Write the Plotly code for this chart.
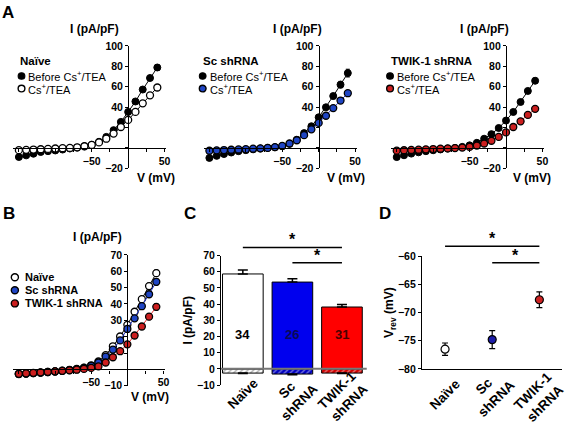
import plotly.graph_objects as go

W, H = 567, 428
FONT = "Liberation Sans, Arial, Helvetica, sans-serif"

# ---------------- data ----------------
V = [-150, -140, -130, -120, -110, -100, -90, -80, -70, -60,
     -50, -40, -30, -20, -10, 0, 10, 20, 30, 40]

naive_before = [-8.9, -7.3, -5.7, -4.0, -3.2, -2.5, -1.6, -0.6, 0.3, 1.6,
                3.0, 6.0, 10.8, 17.4, 25.5, 35.3, 45.5, 57.2, 68.5, 78.8]
naive_before_err = [0.6, 0.5, 0.4, 0.4, 0.3, 0.3, 0.2, 0.2, 0.2, 0.2,
                    0.3, 0.4, 0.6, 0.8, 1.0, 1.3, 1.6, 2.0, 2.4, 2.8]
naive_cs = [-2.2, -1.9, -1.6, -1.3, -1.0, -0.6, -0.3, 0.0, 0.6, 1.6,
            2.9, 5.4, 9.0, 14.0, 20.5, 27.4, 35.3, 43.7, 51.5, 59.2]
naive_cs_err = [0.2, 0.2, 0.2, 0.2, 0.1, 0.1, 0.1, 0.1, 0.1, 0.2,
                0.2, 0.3, 0.5, 0.6, 0.8, 1.0, 1.2, 1.5, 1.8, 2.0]

sc_before = [-9.8, -7.8, -6.0, -4.5, -3.2, -2.2, -1.4, -0.6, 0.0, 0.6,
             1.6, 4.0, 8.0, 14.5, 21.2, 30.0, 39.8, 50.8, 62.0, 73.3]
sc_before_err = [0.7, 0.6, 0.5, 0.4, 0.3, 0.3, 0.2, 0.2, 0.2, 0.2,
                 0.3, 0.4, 0.6, 0.9, 1.2, 1.6, 2.0, 2.6, 3.2, 3.8]
sc_cs = [-2.8, -2.4, -2.1, -1.8, -1.5, -1.2, -0.8, -0.4, 0.0, 0.8,
         2.0, 4.3, 7.5, 12.5, 18.2, 24.5, 31.5, 39.0, 46.4, 53.6]
sc_cs_err = [0.2, 0.2, 0.2, 0.2, 0.2, 0.1, 0.1, 0.1, 0.1, 0.2,
             0.2, 0.3, 0.5, 0.6, 0.8, 1.0, 1.2, 1.4, 1.7, 2.0]

twik_before = [-9.0, -7.2, -5.6, -4.3, -3.2, -2.3, -1.5, -0.7, 0.0, 1.0,
               2.5, 5.0, 9.0, 13.5, 19.5, 26.8, 35.2, 45.0, 55.8, 65.8]
twik_before_err = [0.6, 0.5, 0.4, 0.4, 0.3, 0.3, 0.2, 0.2, 0.2, 0.2,
                   0.3, 0.4, 0.5, 0.7, 0.9, 1.2, 1.5, 1.9, 2.3, 2.7]
twik_cs = [-2.7, -2.3, -2.0, -1.7, -1.4, -1.1, -0.8, -0.5, -0.2, 0.3,
           1.0, 2.3, 4.3, 7.0, 10.8, 15.2, 20.5, 26.0, 32.3, 38.3]
twik_cs_err = [0.2, 0.2, 0.2, 0.2, 0.1, 0.1, 0.1, 0.1, 0.1, 0.1,
               0.2, 0.2, 0.3, 0.4, 0.6, 0.8, 1.0, 1.2, 1.4, 1.6]

b_naive = [-2.8, -2.6, -2.3, -2.0, -1.6, -1.2, -0.8, -0.3, 0.3, 1.0,
           2.5, 4.8, 8.7, 14.1, 20.1, 27.2, 35.2, 42.9, 50.9, 58.8]
b_sc = [-2.9, -2.6, -2.3, -2.0, -1.7, -1.3, -0.9, -0.4, 0.1, 0.9,
        2.2, 4.2, 7.8, 12.1, 17.7, 24.7, 31.2, 38.6, 45.9, 53.5]
b_twik = [-2.7, -2.4, -2.1, -1.8, -1.5, -1.2, -0.9, -0.6, -0.2, 0.3,
          0.9, 1.8, 4.2, 7.4, 11.1, 15.3, 20.7, 26.2, 32.2, 38.2]
b_err = [0.2, 0.2, 0.2, 0.2, 0.1, 0.1, 0.1, 0.1, 0.1, 0.2,
         0.2, 0.3, 0.4, 0.6, 0.8, 1.0, 1.2, 1.5, 1.8, 2.0]

groups = ["Naïve", "Sc<br>shRNA", "TWIK-1<br>shRNA"]
legend_groups = ["Naïve", "Sc shRNA", "TWIK-1 shRNA"]
c_outward = [58.6, 53.6, 38.2]
c_outward_err = [2.5, 2.0, 1.6]
c_inward = [-2.6, -3.2, -2.6]
c_inward_err = [0.3, 0.4, 0.3]
n_cells = ["34", "26", "31"]

vrev = [-76.5, -74.8, -67.7]
vrev_err = [1.1, 1.6, 1.4]

sig_c = [(0, 2, 75.0), (1, 2, 65.5)]
sig_d = [(0, 2, -58.2), (1, 2, -61.1)]

legend_labels = ["Before Cs<sup>+</sup>/TEA", "Cs<sup>+</sup>/TEA"]

# colours
BLACK = "#000000"
BLUE_M = "#1f45c4"
RED_M = "#cc1f1f"
BLUE_L = "#2233cc"
RED_L = "#e03030"
BAR_COLORS = ["#ffffff", "#0000ee", "#ff0000"]
BAR_IN_COLORS = ["#ffffff", "#0000c0", "#d00000"]
D_COLORS = ["#ffffff", "#1c1ca8", "#cc2222"]
NUM_COLORS = ["#000000", "#0a0a55", "#4a0000"]


# ---------------- helpers (layout only) ----------------
def dx(a, b):
    return [a / W, b / W]


def dy(top, bottom):
    return [1 - bottom / H, 1 - top / H]


def pxx(x):
    return x / W


def pyy(y):
    return 1 - y / H


TICKFONT = dict(family=FONT, size=10.5, color="black", weight="bold")


def minor(vals):
    return dict(tickvals=vals, ticks="outside", ticklen=3, tickcolor="black", tickwidth=1,
                showgrid=False)


fig = go.Figure()

# ---------------- panel A ----------------
A_RANGE = [-158, 52]
A_S = 0.735
A_axes_x = [129.3, 321.5, 510.5]
A_Y_DOM = dy(41, 167)
A_ZERO_Y = 146
XT = [-50, 50]
XT_MINOR = [-150, -125, -100, -75, -25, 0, 25]
A_YT = [-20, 40, 60, 80, 100]
A_YT_MINOR = [0, 20]

A_sets = [
    (naive_before, naive_before_err, naive_cs, naive_cs_err, "#ffffff", BLACK),
    (sc_before, sc_before_err, sc_cs, sc_cs_err, BLUE_M, BLUE_L),
    (twik_before, twik_before_err, twik_cs, twik_cs_err, RED_M, RED_L),
]

layout_axes = {}
for i, (bef, befe, cs, cse, csfill, csline) in enumerate(A_sets):
    n = "" if i == 0 else str(i + 1)
    xa, ya = "x" + n, "y" + n
    fig.add_trace(go.Scatter(
        x=V, y=bef, xaxis=xa, yaxis=ya, mode="lines+markers",
        line=dict(color=BLACK, width=1),
        marker=dict(size=7, color=BLACK, line=dict(color=BLACK, width=1)),
        error_y=dict(type="data", array=befe, color=BLACK, thickness=1, width=2),
        showlegend=False, cliponaxis=False))
    fig.add_trace(go.Scatter(
        x=V, y=cs, xaxis=xa, yaxis=ya, mode="lines+markers",
        line=dict(color=csline, width=1),
        marker=dict(size=7, color=csfill, line=dict(color=BLACK, width=1.3)),
        error_y=dict(type="data", array=cse, color=BLACK, thickness=1, width=2),
        showlegend=False, cliponaxis=False))
    ax0 = A_axes_x[i]
    layout_axes["xaxis" + n] = dict(
        domain=dx(ax0 + A_RANGE[0] * A_S, ax0 + A_RANGE[1] * A_S), range=A_RANGE,
        anchor="free", position=pyy(A_ZERO_Y), showline=True, linecolor="black",
        linewidth=1.2, ticks="outside", ticklen=3, tickcolor="black", tickwidth=1,
        tickvals=XT, minor=minor(XT_MINOR), showgrid=False, zeroline=False,
        tickfont=TICKFONT)
    layout_axes["yaxis" + n] = dict(
        domain=A_Y_DOM, range=[-20, 100], anchor="free", position=pxx(ax0),
        showline=True, linecolor="black", linewidth=1.2, ticks="outside", ticklen=3,
        tickcolor="black", tickwidth=1, tickvals=A_YT, minor=minor(A_YT_MINOR),
        showgrid=False, zeroline=False, tickfont=TICKFONT)

# ---------------- panel B ----------------
B_S = 0.73
B_AX = 128.5
B_YT = [-10, 30, 40, 50, 60, 70]
B_YT_MINOR = [0, 10, 20]
for ys, fill, lc in [(b_naive, "#ffffff", BLACK), (b_sc, BLUE_M, BLUE_L), (b_twik, RED_M, RED_L)]:
    fig.add_trace(go.Scatter(
        x=V, y=ys, xaxis="x4", yaxis="y4", mode="lines+markers",
        line=dict(color=lc, width=1),
        marker=dict(size=7, color=fill, line=dict(color=BLACK, width=1.3)),
        error_y=dict(type="data", array=b_err, color=BLACK, thickness=1, width=2),
        showlegend=False, cliponaxis=False))
layout_axes["xaxis4"] = dict(
    domain=dx(B_AX + A_RANGE[0] * B_S, B_AX + A_RANGE[1] * B_S), range=A_RANGE,
    anchor="free", position=pyy(373.9), showline=True, linecolor="black",
    linewidth=1.2, ticks="outside", ticklen=3, tickcolor="black", tickwidth=1,
    tickvals=XT, minor=minor(XT_MINOR), showgrid=False, zeroline=False,
    tickfont=TICKFONT)
layout_axes["yaxis4"] = dict(
    domain=dy(256, 390.7), range=[-10, 70], anchor="free", position=pxx(B_AX),
    showline=True, linecolor="black", linewidth=1.2, ticks="outside", ticklen=3,
    tickcolor="black", tickwidth=1, tickvals=B_YT, minor=minor(B_YT_MINOR),
    showgrid=False, zeroline=False, tickfont=TICKFONT)

# ---------------- panel C ----------------
xc = list(range(len(groups)))
fig.add_trace(go.Bar(
    x=xc, y=c_inward, xaxis="x5", yaxis="y5", width=0.82,
    marker=dict(color=BAR_IN_COLORS, line=dict(color=BLACK, width=1),
                pattern=dict(shape="/", fgcolor="#8a8a8a", size=4, solidity=0.3)),
    error_y=dict(type="data", array=[0, 0, 0], arrayminus=c_inward_err, symmetric=False,
                 color=BLACK, thickness=1.5, width=5),
    showlegend=False))
fig.add_trace(go.Bar(
    x=xc, y=c_outward, xaxis="x5", yaxis="y5", width=0.82,
    marker=dict(color=BAR_COLORS, line=dict(color=BLACK, width=1)),
    error_y=dict(type="data", array=c_outward_err, arrayminus=[0, 0, 0], symmetric=False,
                 color=BLACK, thickness=1.5, width=5),
    showlegend=False))
layout_axes["xaxis5"] = dict(
    domain=dx(223, 370), range=[-0.44, 2.5], anchor="y5", showline=False,
    showticklabels=False, ticks="", showgrid=False, zeroline=False)
layout_axes["yaxis5"] = dict(
    domain=dy(256.7, 390), range=[-10, 70], anchor="x5", showline=True,
    linecolor="black", linewidth=1.2, ticks="outside", ticklen=3, tickcolor="black",
    tickvals=[-10, 0, 10, 20, 30, 40, 50, 60, 70], showgrid=False, zeroline=False,
    tickfont=TICKFONT,
    title=dict(text="I (pA/pF)", font=dict(family=FONT, size=12, weight="bold"), standoff=1))

# ---------------- panel D ----------------
fig.add_trace(go.Scatter(
    x=xc, y=vrev, xaxis="x6", yaxis="y6", mode="markers",
    marker=dict(size=8, color=D_COLORS, line=dict(color=BLACK, width=1.2)),
    error_y=dict(type="data", array=vrev_err, color=BLACK, thickness=1.2, width=3),
    showlegend=False, cliponaxis=False))
layout_axes["xaxis6"] = dict(
    domain=dx(425.7, 567), range=[-0.49, 2.48], anchor="y6", showline=True,
    linecolor="black", linewidth=1.2, showticklabels=False, ticks="",
    showgrid=False, zeroline=False)
layout_axes["yaxis6"] = dict(
    domain=dy(257.7, 373.3), range=[-80, -60], anchor="x6", showline=True,
    linecolor="black", linewidth=1.2, ticks="outside", ticklen=3, tickcolor="black",
    tickvals=[-80, -75, -70, -65, -60], showgrid=False, zeroline=False,
    tickfont=TICKFONT,
    title=dict(text="V<sub>rev</sub> (mV)", font=dict(family=FONT, size=12, weight="bold"),
               standoff=1))

# ---------------- shapes & annotations ----------------
shapes = []
annotations = []


def text(x, y, s, size=11, bold=False, xanchor="left", yanchor="middle", color="black", **kw):
    annotations.append(dict(
        x=x, y=y, xref=kw.pop("xref", "paper"), yref=kw.pop("yref", "paper"), text=s,
        showarrow=False, xanchor=xanchor, yanchor=yanchor,
        font=dict(family=FONT, size=size, color=color, weight="bold" if bold else "normal"),
        **kw))


def circle(cx, cy, r, fill, lw=1.1):
    shapes.append(dict(type="circle", xref="paper", yref="paper",
                       x0=(cx - r) / W, x1=(cx + r) / W,
                       y0=1 - (cy + r) / H, y1=1 - (cy - r) / H,
                       fillcolor=fill, line=dict(color="black", width=lw)))


# panel letters
for lbl, x, y in [("A", 0, -5), ("B", 1, 202), ("C", 184, 202), ("D", 380, 202)]:
    text(pxx(x), pyy(y), lbl, size=17, bold=True, yanchor="top")

# A axis titles + legends
A_ititle = [95.7, 300, 489]
A_vtitle = [157.5, 349, 537]
A_leg = [(20.5, 21.7, 27.5), (205, 204.5, 211.5), (394.3, 393.5, 400)]
cs_fills = ["#ffffff", BLUE_M, RED_M]
for i in range(3):
    text(pxx(A_ititle[i]), pyy(24), "I (pA/pF)", size=12, bold=True, xanchor="center")
    text(pxx(A_vtitle[i]), pyy(177), "V (mV)", size=12, bold=True, xanchor="center")
    tx, mx, lx = A_leg[i]
    text(pxx(tx - 2), pyy(57), legend_groups[i], size=11.5, bold=True)
    circle(mx, 72, 3.4, BLACK)
    circle(mx, 85, 3.4, cs_fills[i], lw=1.4)
    text(pxx(lx - 1.5), pyy(72), legend_labels[0], size=11)
    text(pxx(lx - 1.5), pyy(85), legend_labels[1], size=11)

# B titles + legend
text(pxx(98), pyy(238), "I (pA/pF)", size=12, bold=True, xanchor="center")
text(pxx(151), pyy(402), "V (mV)", size=12, bold=True, xanchor="center")
b_fills = ["#ffffff", BLUE_M, RED_M]
for i, yy in enumerate([279, 292.5, 306]):
    circle(15, yy, 3.6, b_fills[i], lw=1.4)
    text(pxx(23.5), pyy(yy), legend_groups[i], size=11, bold=True)

# C numbers and category labels
for i in range(3):
    text(xc[i], 21, n_cells[i], size=13, bold=True, xanchor="center",
         color=NUM_COLORS[i], xref="x5", yref="y5")
for i, (cxp, cyp) in enumerate([(245.5, 399), (296, 402), (346.7, 402)]):
    text(pxx(cxp), pyy(cyp), groups[i], size=13.5, bold=True, xanchor="center",
         textangle=-45, align="center")
for i, (cxp, cyp) in enumerate([(449, 400), (495, 398), (544, 403)]):
    text(pxx(cxp), pyy(cyp), groups[i], size=13.5, bold=True, xanchor="center",
         textangle=-45, align="center")

# zero line on C
shapes.append(dict(type="line", xref="x5 domain", yref="y5", x0=0, x1=1, y0=0, y1=0,
                   line=dict(color="#777777", width=2), layer="above"))


# significance bars
def sig(pairs, xa, ya, lo, hi):
    for a, b, v in pairs:
        f = (v - lo) / (hi - lo)
        shapes.append(dict(type="line", xref=xa, yref=ya + " domain", x0=a, x1=b,
                           y0=f, y1=f, line=dict(color="black", width=1.5)))
        annotations.append(dict(x=(a + b) / 2, y=f, xref=xa, yref=ya + " domain",
                                text="*", showarrow=False, xanchor="center",
                                yanchor="bottom", yshift=-3,
                                font=dict(family=FONT, size=16, color="black",
                                          weight="bold")))


sig(sig_c, "x5", "y5", -10, 70)
sig(sig_d, "x6", "y6", -80, -60)

fig.update_layout(
    width=W, height=H, autosize=False,
    margin=dict(l=0, r=0, t=0, b=0),
    paper_bgcolor="white", plot_bgcolor="rgba(0,0,0,0)",
    font=dict(family=FONT, size=11, color="black"),
    barmode="overlay", showlegend=False,
    shapes=shapes, annotations=annotations,
    **layout_axes)

fig.write_html("out.html", config={"displayModeBar": False},
               post_script="document.body.style.margin='0';document.body.style.overflow='hidden';")
